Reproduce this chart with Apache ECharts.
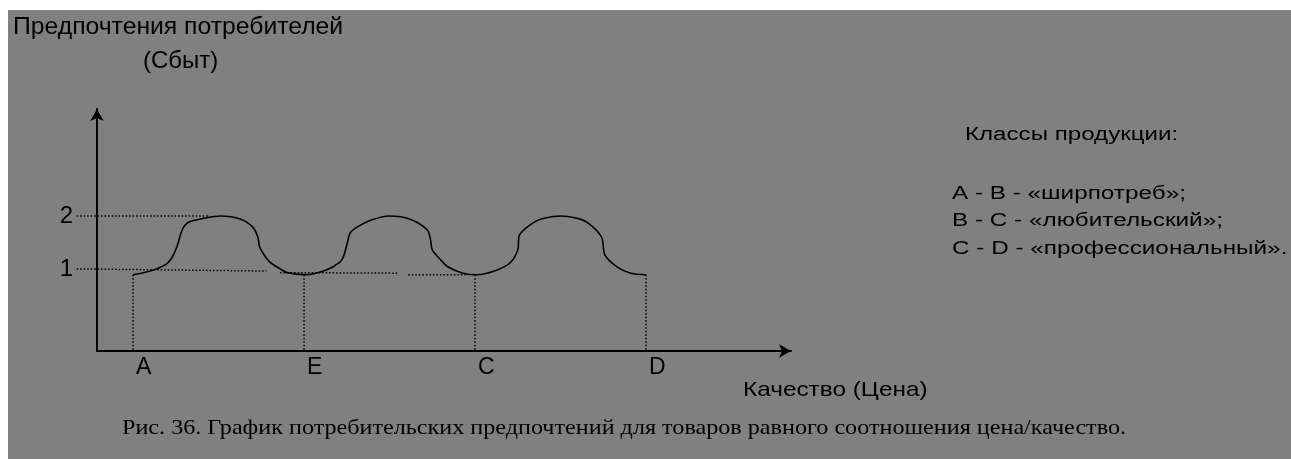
<!DOCTYPE html>
<html>
<head>
<meta charset="utf-8">
<script src="https://cdn.jsdelivr.net/npm/echarts@6/dist/echarts.min.js"></script>
<style>
html,body{margin:0;padding:0;background:#fff;}
#chart{width:1291px;height:459px;}
</style>
</head>
<body>
<div id="chart"></div>
<script>
// ---- data ----
const xTickValues = [1, 2, 3, 4];
const xTickLabels = ['A', 'E', 'C', 'D'];
const yTickValues = [1, 2];
const yTickLabels = ['1', '2'];

// consumer preference curve (quality -> preference)
const curveX = [1.00,1.10,1.19,1.23,1.26,1.28,1.30,1.33,1.39,1.51,1.63,1.70,1.73,1.74,1.77,1.80,1.86,1.90,2.01,
                2.13,2.21,2.23,2.25,2.27,2.31,2.39,2.50,2.62,2.72,2.74,2.75,2.80,2.84,2.93,3.01,
                3.13,3.21,3.25,3.26,3.34,3.41,3.50,3.59,3.66,3.74,3.76,3.83,3.91,4.00];
const curveY = [0.89,0.96,1.08,1.23,1.45,1.68,1.81,1.89,1.94,2.00,1.94,1.79,1.60,1.42,1.25,1.13,1.00,0.93,0.89,
                0.98,1.13,1.23,1.45,1.68,1.79,1.92,2.00,1.94,1.74,1.55,1.36,1.17,1.04,0.92,0.89,
                0.98,1.13,1.36,1.64,1.87,1.96,2.00,1.96,1.87,1.60,1.26,1.04,0.92,0.89];

// dotted guide lines: start / end points
const guideFrom = [[0.67, 2.00], [0.67, 1.00], [1.86, 0.93], [2.61, 0.89], [1, 0.89], [2, 0.89], [3, 0.89], [4, 0.89]];
const guideTo   = [[1.45, 2.00], [1.78, 0.96], [2.55, 0.92], [2.96, 0.89], [1, -0.55], [2, -0.55], [3, -0.55], [4, -0.55]];

const yTitle1 = 'Предпочтения потребителей';
const yTitle2 = '(Сбыт)';
const xTitle = 'Качество (Цена)';
const legendHead = 'Классы продукции:';
const legendRows = ['A - B - «ширпотреб»;', 'B - C - «любительский»;', 'C - D - «профессиональный».'];
const caption = 'Рис. 36. График потребительских предпочтений для товаров равного соотношения цена/качество.';

// ---- chart ----
const chart = echarts.init(document.getElementById('chart'), null, {renderer: 'canvas'});
const sans = '"Liberation Sans", Arial, sans-serif';
const serif = '"Liberation Serif", "Times New Roman", serif';

const texts = [
  {text: yTitle1, x: 13, y: 27, size: 24, font: sans, sx: 1.03},
  {text: yTitle2, x: 143, y: 61, size: 24, font: sans, sx: 1.0},
  {text: legendHead, x: 965, y: 135, size: 18, font: sans, sx: 1.34},
  {text: legendRows[0], x: 952, y: 194, size: 18, font: sans, sx: 1.35},
  {text: legendRows[1], x: 952, y: 221, size: 18, font: sans, sx: 1.35},
  {text: legendRows[2], x: 952, y: 249, size: 18, font: sans, sx: 1.35},
  {text: xTitle, x: 743, y: 390, size: 21, font: sans, sx: 1.16},
  {text: caption, x: 122, y: 428, size: 21, font: serif, sx: 1.15}
];

// main plot range and a wider, hidden overlay range for the guide lines
const X_MIN = 0.789, X_MAX = 4.848, Y_MIN = -0.55, Y_MAX = 4.02;
const GRID_LEFT = 97, GRID_TOP = 109, GRID_W = 694, GRID_H = 242;
const pxPerUnit = GRID_W / (X_MAX - X_MIN);
const guideMin = 0.66;
const guideLeft = GRID_LEFT - (X_MIN - guideMin) * pxPerUnit;

const guideSeries = guideFrom.map((p, i) => ({
  type: 'line',
  xAxisIndex: 1, yAxisIndex: 1,
  data: [p, guideTo[i]],
  showSymbol: false,
  silent: true,
  lineStyle: {color: '#000', width: 1.5, type: [1.5, 2]}
}));

chart.setOption({
  backgroundColor: '#808080',
  animation: false,
  grid: [
    {left: GRID_LEFT, top: GRID_TOP, width: GRID_W, height: GRID_H},
    {left: guideLeft, top: GRID_TOP, width: GRID_LEFT + GRID_W - guideLeft, height: GRID_H}
  ],
  xAxis: [{
    type: 'value', min: X_MIN, max: X_MAX, gridIndex: 0,
    splitLine: {show: false},
    axisTick: {show: false},
    axisLine: {show: true, onZero: false, symbol: ['none', 'arrow'], symbolSize: [10, 12],
               lineStyle: {color: '#000', width: 2}},
    axisLabel: {
      customValues: xTickValues,
      formatter: v => xTickLabels[xTickValues.indexOf(v)] || '',
      color: '#000', fontSize: 23, fontFamily: sans, align: 'left', padding: [0, 0, 0, 3], margin: 5
    }
  }, {
    type: 'value', min: guideMin, max: X_MAX, gridIndex: 1, show: false
  }],
  yAxis: [{
    type: 'value', min: Y_MIN, max: Y_MAX, gridIndex: 0,
    splitLine: {show: false},
    axisTick: {show: false},
    axisLine: {show: true, onZero: false, symbol: ['none', 'arrow'], symbolSize: [10, 12],
               lineStyle: {color: '#000', width: 2}},
    axisLabel: {
      customValues: yTickValues,
      formatter: v => yTickLabels[yTickValues.indexOf(v)] || '',
      color: '#000', fontSize: 24, fontFamily: sans, margin: 24
    }
  }, {
    type: 'value', min: Y_MIN, max: Y_MAX, gridIndex: 1, show: false
  }],
  graphic: [
    {type: 'rect', shape: {x: 0, y: 0, width: 1291, height: 10}, style: {fill: '#fff'}, z: 100},
    {type: 'rect', shape: {x: 0, y: 0, width: 8, height: 459}, style: {fill: '#fff'}, z: 100}
  ].concat(texts.map(t => ({
    type: 'text', x: t.x, y: t.y, scaleX: t.sx,
    style: {text: t.text, font: t.size + 'px ' + t.font, fill: '#000', verticalAlign: 'middle', align: 'left'}
  }))),
  series: [
    {
      type: 'line',
      data: curveX.map((x, i) => [x, curveY[i]]),
      smooth: 0.3,
      showSymbol: false,
      lineStyle: {color: '#000', width: 1.6}
    }
  ].concat(guideSeries)
});
</script>
</body>
</html>
